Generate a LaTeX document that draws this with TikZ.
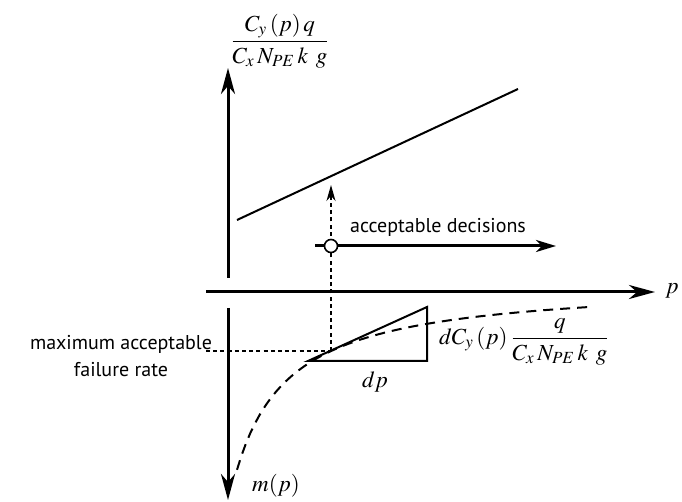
\documentclass[tikz,border=0pt]{standalone}
\usepackage{amsmath}
\usepackage{mathptmx}
\usepackage[no-math]{fontspec}
\setsansfont{PT Sans}
\usetikzlibrary{arrows.meta}

\begin{document}
\begin{tikzpicture}[x=0.5pt,y=-0.5pt,
  font=\sffamily\fontsize{10}{13.5}\selectfont,
  mathlabel/.style={font=\fontsize{11.5}{14}\selectfont},
  axis/.style={line width=1.5pt},
  bigtip/.style={-{Stealth[length=13pt,width=7pt,inset=4pt]}},
  smalltip/.style={-{Stealth[length=8pt,width=4.5pt,inset=2.5pt]}},
  thindash/.style={line width=0.7pt, dash pattern=on 2pt off 1.6pt},
  curvedash/.style={line width=1pt, dash pattern=on 5pt off 3.5pt}]

\useasboundingbox (0,0) rectangle (682,502);

% Puntos de los ejes
\coordinate (ytop) at (228,68);
\coordinate (yup) at (228,278);
\coordinate (ydown) at (228,308);
\coordinate (ybot) at (228,500);
\coordinate (xleft) at (206,292);
\coordinate (xright) at (655,292);

% Ejes
\draw[axis, bigtip] (yup) -- (ytop);
\draw[axis, bigtip] (ydown) -- (ybot);
\draw[axis, bigtip] (xleft) -- (xright);

% Recta del coste
\coordinate (c1) at (237,220);
\coordinate (c2) at (518,89);
\draw[line width=1pt] (c1) -- (c2);

% Curva m(p)
\draw[curvedash] plot[domain=237:590, samples=80] (\x, {281.6+10350/(\x-182)});

% Triangulo de la pendiente
\coordinate (ta) at (308,361);
\coordinate (tb) at (427,307);
\coordinate (tc) at (427,361);
\draw[line width=1pt] (ta) -- (tb) -- (tc) -- cycle;

% Tasa maxima aceptable
\coordinate (mf) at (331,351);
\coordinate (mfl) at (206,351);
\coordinate (mftop) at (331,185);
\draw[thindash] (mfl) -- (mf);
\draw[thindash, smalltip] (mf) -- (mftop);

% Decisiones aceptables
\coordinate (da) at (315,246);
\coordinate (db) at (556,246);
\draw[axis, -{Stealth[length=10pt,width=6pt,inset=3pt]}] (da) -- (db);
\node[circle, draw, fill=white, line width=0.8pt, minimum size=6.5pt, inner sep=0pt] (pc) at (331,246) {};

% Etiquetas
\node[mathlabel] (ylab) at (280,41) {$\dfrac{C_y\left(p\right)q}{C_x\,N_{PE}\,k\;\,g}$};
\node[mathlabel] (plab) at (672,291) {$p$};
\node[mathlabel] (mlab) at (276,486) {$m(p)$};
\node[mathlabel] (dplab) at (375,382) {$dp$};
\node[mathlabel, anchor=west] (slope) at (432,342) {$dC_y\left(p\right)\dfrac{q}{C_x\,N_{PE}\,k\;\,g}$};
\node[align=center] (mafr) at (121,356) {maximum acceptable\\failure rate};
\node (acc) at (438,227) {acceptable decisions};

\end{tikzpicture}
\end{document}
